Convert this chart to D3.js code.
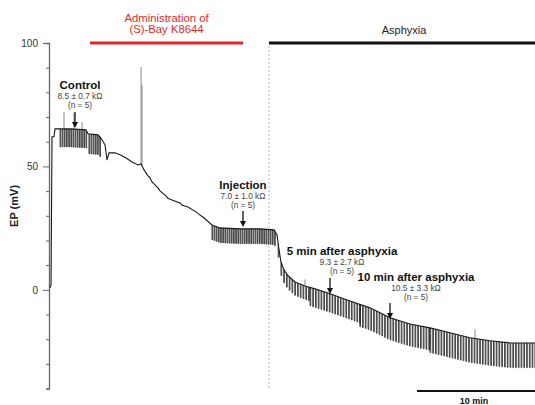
<!DOCTYPE html>
<html>
<head>
<meta charset="utf-8">
<script src="https://cdn.jsdelivr.net/npm/d3@7"></script>
<style>
  html, body { margin: 0; padding: 0; background: #fff; }
  svg { display: block; font-family: "Liberation Sans", Arial, Helvetica, sans-serif; }
</style>
</head>
<body>
<svg id="chart" width="535" height="405"></svg>
<script>
// Endocochlear potential recording (EP, mV) against time (min)
const traceTime = [0.08, 0.17, 0.25, 0.42, 0.5, 1.75, 3.08, 3.25, 4.08, 4.33, 4.67, 4.83, 5.0, 5.5, 5.92, 6.42,
  6.92, 7.42, 7.67, 7.92, 8.25, 8.42, 8.58, 8.92, 9.1, 9.25, 9.75, 9.9, 10.25, 10.92, 11.1, 11.58, 12.25, 12.4,
  12.92, 13.58, 14.25, 15.9, 17.6, 18.75, 19.0, 19.17, 19.33, 19.58, 19.92, 20.5, 21.33, 22.17, 23.42, 25.08,
  26.75, 28.42, 30.08, 31.75, 33.42, 35.08, 36.75, 38.42, 40.5];
const traceEP = [0.8, 2, 62, 62, 65.2, 65.2, 64.8, 63.2, 62.8, 61.5, 58.7, 52.6, 55.5, 55.5, 54.7, 53.4,
  51.8, 50.6, 51, 48.6, 46.2, 45.4, 43.7, 42.1, 41.2, 40.1, 38.1, 37.1, 36.4, 35.2, 34.3, 33.6, 31.6, 31.0,
  29.1, 26.3, 25.1, 24.7, 24.7, 24.3, 22.3, 16.2, 11.3, 8.1, 5.7, 3.2, 1.6, 0.4, -1.6, -4.5,
  -7.3, -11.3, -13.8, -15.4, -17.4, -19.4, -20.6, -21.5, -21.5];

// Current-pulse trains (start min, end min, period min, deflection mV)
const trainStart  = [0.92, 3.33, 13.58, 19.1, 21.75, 25.9, 31.75];
const trainEnd    = [3.25, 4.25, 18.92, 21.75, 25.9, 31.75, 40.5];
const trainPeriod = [0.18, 0.18, 0.18, 0.23, 0.23, 0.23, 0.23];
const trainDepth  = [7.3, 8, 6, 5.5, 7.5, 9, 10];

// Brief upward artefacts (time min, peak mV)
const spikeTime = [1.25, 2.08, 2.75, 7.67, 7.75, 21.33, 35.5];
const spikePeak = [72, 71.7, 68, 90.3, 83, 4.2, -16];

// Y axis ticks
const yTicks = [-40, -30, -20, -10, 0, 10, 20, 30, 40, 50, 60, 70, 80, 90, 100];
const yLabels = [0, 50, 100];

// Experimental periods and sampled points
const drugPeriod = [3.42, 16.17];
const asphyxiaStart = 18.33;
const scaleBarMin = [30.67, 40.67];
const notes = [
  { title: "Control", value: "8.5 ± 0.7 kΩ", t: 2.17 },
  { title: "Injection", value: "7.0 ± 1.0 kΩ", t: 16.17 },
  { title: "5 min after asphyxia", value: "9.3 ± 2.7 kΩ", t: 23.42 },
  { title: "10 min after asphyxia", value: "10.5 ± 3.3 kΩ", t: 28.42 }
];

const svg = d3.select("#chart");
const x = d3.scaleLinear().domain([0, 40.5]).range([49, 535]);
const y = d3.scaleLinear().domain([-40, 100]).range([388.6, 43]);

// baseline lookup for placing pulses on the trace
const baseAt = t => {
  const i = d3.bisectRight(traceTime, t);
  if (i <= 0) return traceEP[0];
  if (i >= traceTime.length) return traceEP[traceEP.length - 1];
  const t0 = traceTime[i - 1], t1 = traceTime[i];
  return traceEP[i - 1] + (traceEP[i] - traceEP[i - 1]) * (t - t0) / (t1 - t0);
};

// asphyxia onset marker
svg.append("line")
  .attr("x1", x(asphyxiaStart)).attr("x2", x(asphyxiaStart))
  .attr("y1", y(100) + 3).attr("y2", y(-40))
  .attr("stroke", "#bbb").attr("stroke-width", 1).attr("stroke-dasharray", "2,2");

// y axis
const axis = d3.axisLeft(y).tickValues(yTicks)
  .tickFormat(d => yLabels.includes(d) ? d : "")
  .tickSize(3).tickPadding(4);
const gAxis = svg.append("g").attr("transform", `translate(${x(0)},0)`).call(axis);
gAxis.select(".domain").attr("stroke", "#666").attr("stroke-width", 1.3);
gAxis.selectAll(".tick line").attr("stroke", "#666")
  .attr("x2", d => yLabels.includes(d) ? -6 : -3);
gAxis.selectAll(".tick text").attr("font-size", 10).attr("fill", "#333")
  .attr("x", -11);

svg.append("text")
  .attr("transform", `translate(18,${y(34)}) rotate(-90)`)
  .attr("text-anchor", "middle").attr("font-size", 11).attr("font-weight", "bold")
  .attr("fill", "#222").text("EP (mV)");

// pulses
const pulses = [];
trainStart.forEach((s, k) => {
  for (let t = s; t < trainEnd[k]; t += trainPeriod[k]) pulses.push({ t, d: trainDepth[k] });
});
svg.append("g").selectAll("path").data(pulses).join("path")
  .attr("d", p => {
    const b = baseAt(p.t), b2 = baseAt(p.t + 0.06);
    return `M${x(p.t)},${y(b)}V${y(b - p.d)}H${x(p.t + 0.06)}V${y(b2)}`;
  })
  .attr("fill", "none").attr("stroke", "#222").attr("stroke-width", 0.8);

// upward artefacts
svg.append("g").selectAll("line").data(spikeTime).join("line")
  .attr("x1", d => x(d)).attr("x2", d => x(d))
  .attr("y1", d => y(baseAt(d))).attr("y2", (d, i) => y(spikePeak[i]))
  .attr("stroke", "#888").attr("stroke-width", 1);

// EP trace
svg.append("path")
  .datum(traceTime.map((t, i) => [t, traceEP[i]]))
  .attr("d", d3.line().x(d => x(d[0])).y(d => y(d[1])))
  .attr("fill", "none").attr("stroke", "#1a1a1a").attr("stroke-width", 1.1);

// treatment bars
svg.append("line")
  .attr("x1", x(drugPeriod[0])).attr("x2", x(drugPeriod[1]))
  .attr("y1", 43).attr("y2", 43).attr("stroke", "#e3262b").attr("stroke-width", 2.8);
svg.append("text").attr("x", (x(drugPeriod[0]) + x(drugPeriod[1])) / 2).attr("y", 22)
  .attr("text-anchor", "middle").attr("font-size", 11.3).attr("fill", "#e3262b").text("Administration of");
svg.append("text").attr("x", (x(drugPeriod[0]) + x(drugPeriod[1])) / 2).attr("y", 33)
  .attr("text-anchor", "middle").attr("font-size", 11.3).attr("fill", "#e3262b").text("(S)-Bay K8644");

svg.append("line")
  .attr("x1", x(asphyxiaStart)).attr("x2", x(40.5))
  .attr("y1", 43).attr("y2", 43).attr("stroke", "#111").attr("stroke-width", 2.8);
svg.append("text").attr("x", 404).attr("y", 34)
  .attr("text-anchor", "middle").attr("font-size", 11).attr("fill", "#222").text("Asphyxia");

// sample annotations with arrows
const noteLayout = [
  { cx: 80, ty: 89, ax: 75, a1: 112, a2: 128 },
  { cx: 243, ty: 189, ax: 243, a1: 211, a2: 227 },
  { cx: 342, ty: 255, ax: 330, a1: 278, a2: 294 },
  { cx: 416, ty: 281, ax: 390, a1: 303, a2: 319 }
];
const gNotes = svg.append("g");
notes.forEach((n, i) => {
  const L = noteLayout[i];
  gNotes.append("text").attr("x", L.cx).attr("y", L.ty).attr("text-anchor", "middle")
    .attr("font-size", 11.5).attr("font-weight", "bold").attr("fill", "#111").text(n.title);
  gNotes.append("text").attr("x", L.cx).attr("y", L.ty + 10).attr("text-anchor", "middle")
    .attr("font-size", 8.3).attr("fill", "#444").text(n.value);
  gNotes.append("text").attr("x", L.cx).attr("y", L.ty + 19).attr("text-anchor", "middle")
    .attr("font-size", 8.3).attr("fill", "#444").text("(n = 5)");
  gNotes.append("line").attr("x1", L.ax).attr("x2", L.ax).attr("y1", L.a1).attr("y2", L.a2 - 5)
    .attr("stroke", "#111").attr("stroke-width", 1.3);
  gNotes.append("path")
    .attr("d", `M${L.ax - 3},${L.a2 - 6}L${L.ax + 3},${L.a2 - 6}L${L.ax},${L.a2}Z`)
    .attr("fill", "#111");
});

// time scale bar
svg.append("line")
  .attr("x1", x(scaleBarMin[0])).attr("x2", x(scaleBarMin[1]))
  .attr("y1", 391).attr("y2", 391).attr("stroke", "#111").attr("stroke-width", 2);
svg.append("text").attr("x", 474).attr("y", 404).attr("text-anchor", "middle")
  .attr("font-size", 9).attr("font-weight", "bold").attr("fill", "#111").text("10 min");
</script>
</body>
</html>
